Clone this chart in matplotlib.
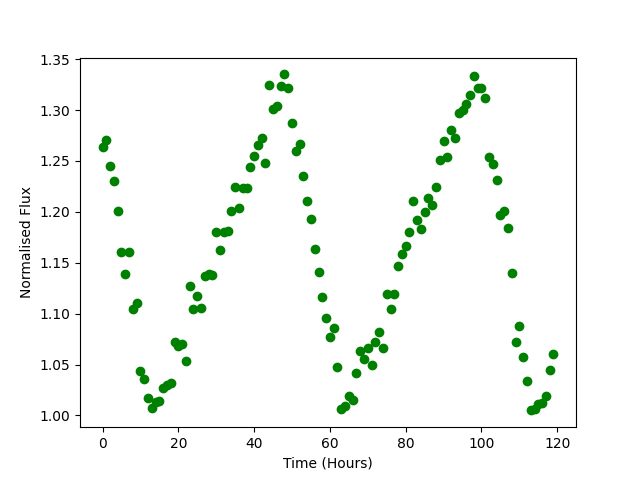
import matplotlib
matplotlib.use("Agg")
import matplotlib.pyplot as plt
import numpy as np

hours = list(range(120))
flux = [
    1.264, 1.271, 1.245, 1.230, 1.201, 1.161, 1.139, 1.161, 1.105, 1.110,
    1.044, 1.036, 1.017, 1.007, 1.013, 1.014, 1.027, 1.030, 1.032, 1.072,
    1.068, 1.070, 1.054, 1.127, 1.105, 1.117, 1.106, 1.137, 1.139, 1.138,
    1.180, 1.163, 1.180, 1.181, 1.201, 1.224, 1.204, 1.223, 1.223, 1.244,
    1.255, 1.266, 1.273, 1.248, 1.325, 1.301, 1.304, 1.324, 1.335, 1.322,
    1.287, 1.260, 1.267, 1.235, 1.211, 1.193, 1.164, 1.141, 1.116, 1.096,
    1.077, 1.086, 1.048, 1.006, 1.009, 1.019, 1.015, 1.042, 1.063, 1.055,
    1.066, 1.050, 1.072, 1.082, 1.066, 1.119, 1.105, 1.119, 1.147, 1.159,
    1.166, 1.180, 1.211, 1.192, 1.183, 1.200, 1.214, 1.207, 1.224, 1.251,
    1.270, 1.254, 1.280, 1.273, 1.297, 1.300, 1.306, 1.315, 1.333, 1.322,
    1.322, 1.312, 1.254, 1.247, 1.231, 1.197, 1.201, 1.184, 1.140, 1.072,
    1.088, 1.057, 1.034, 1.005, 1.006, 1.011, 1.012, 1.019, 1.045, 1.060,
]

fig, ax = plt.subplots(figsize=(6.4, 4.8), dpi=100)
ax.plot(hours, flux, 'go')
ax.set_xlabel('Time (Hours)')
ax.set_ylabel('Normalised Flux')
fig.savefig('out.png')
